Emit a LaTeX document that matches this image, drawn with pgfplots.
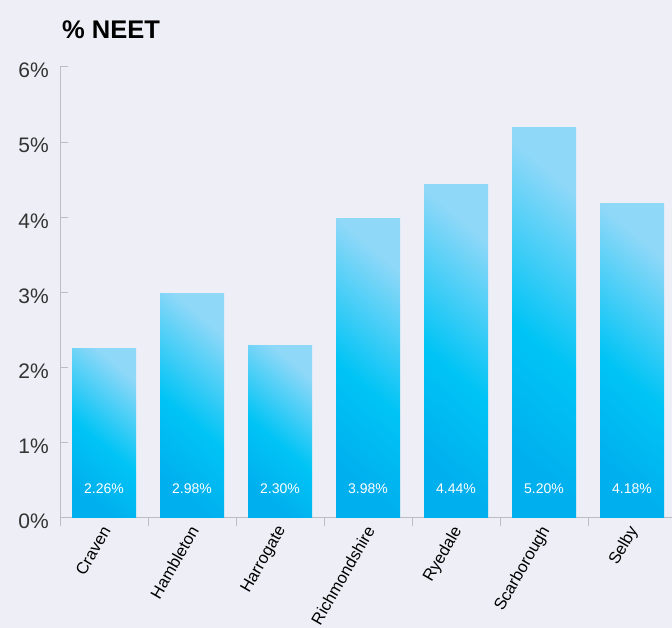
\documentclass[border=0pt]{standalone}
\usepackage{pgfplots}
\usepackage{pgfplotstable}
\pgfplotsset{compat=1.18}
\usepackage{fontspec}
\setmainfont{Liberation Sans}
\definecolor{bg}{HTML}{EEEEF6}
\definecolor{btop}{HTML}{90D8F8}
\definecolor{bmid}{HTML}{00C4F5}
\definecolor{bbot}{HTML}{00AFEE}
\definecolor{axisgray}{HTML}{BDBDC4}
\definecolor{ticktext}{HTML}{333333}
\pgfdeclareverticalshading{barshade}{100bp}{color(0bp)=(bbot); color(25bp)=(bbot); color(46bp)=(bmid); color(75bp)=(btop); color(100bp)=(btop)}
\pgfplotstableread{
x y
0 2.26
1 2.98
2 2.30
3 3.98
4 4.44
5 5.20
6 4.18
}\data
\begin{document}
\begin{tikzpicture}
\path[use as bounding box] (0,0) rectangle (672pt,628pt);
\fill[bg] (0,0) rectangle (672pt,628pt);
\begin{axis}[
  at={(60pt,110pt)}, anchor=south west,
  scale only axis, width=612pt, height=451pt,
  xmin=-0.5, xmax=6.4545, ymin=0, ymax=6,
  axis x line=bottom, axis y line=left,
  axis line style={draw=axisgray, line width=1pt, -},
  /pgf/number format/assume math mode=true,
  xtick={-0.5,0.5,...,5.5},
  xticklabels={},
  extra x ticks={0,...,6},
  extra x tick labels={Craven,Hambleton,Harrogate,Richmondshire,Ryedale,Scarborough,Selby},
  extra x tick style={major tick length=0pt},
  xtick style={draw=axisgray, line width=1pt, yshift=-8.5pt},
  tick align=inside,
  major tick length=8.5pt,
  xticklabel style={rotate=60, anchor=east, font=\fontsize{16.5}{20}\selectfont, text=black, inner sep=0pt, xshift=-7.3pt, yshift=-7pt},
  ytick={0,...,6},
  ytick style={draw=axisgray, line width=1pt},
  yticklabel={\pgfmathprintnumber{\tick}\%},
  yticklabel style={font=\fontsize{21}{25}\selectfont, text=ticktext, inner sep=0pt, xshift=-11pt, yshift=-3.5pt},
  title={\% NEET},
  title style={at={(0,1)}, anchor=base west, inner sep=0pt, xshift=2pt, yshift=22pt, font=\fontsize{25.5}{30}\selectfont\bfseries, text=black},
  clip=false,
]
\pgfplotsinvokeforeach{0,...,6}{
  \addplot[ybar, bar width=64pt, bar shift=0pt, draw=none, shade, shading=barshade, shading angle=-40, restrict x to domain=#1:#1] table[x=x, y=y] {\data};
}
\addplot[draw=none, mark=none, point meta=explicit,
  nodes near coords={\pgfmathprintnumber[fixed,fixed zerofill,precision=2]{\pgfplotspointmeta}\%},
  nodes near coords style={font=\fontsize{14}{17}\selectfont, text=white, anchor=center}]
  table[x=x, y expr=0.386, meta=y] {\data};
\end{axis}
\end{tikzpicture}
\end{document}
